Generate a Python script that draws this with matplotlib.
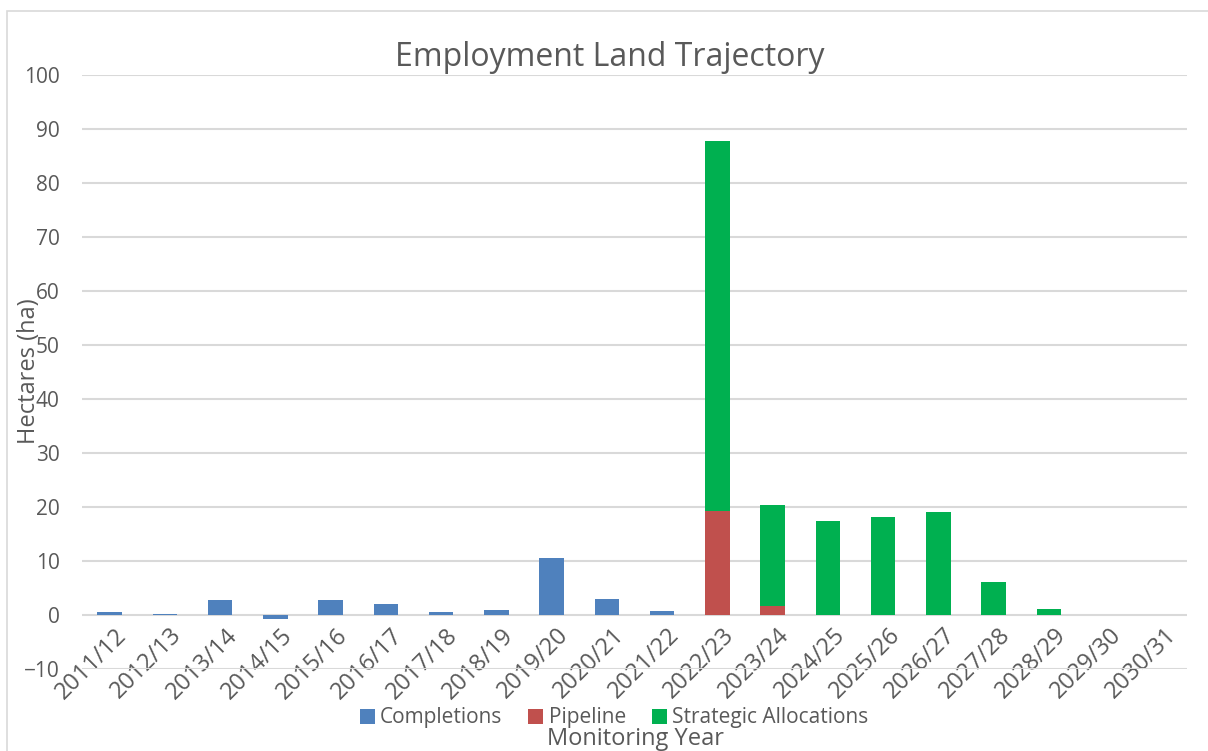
import numpy as np
import matplotlib.pyplot as plt
from matplotlib.patches import Rectangle
from matplotlib.transforms import ScaledTranslation

years = ["2011/12", "2012/13", "2013/14", "2014/15", "2015/16", "2016/17", "2017/18",
         "2018/19", "2019/20", "2020/21", "2021/22", "2022/23", "2023/24", "2024/25",
         "2025/26", "2026/27", "2027/28", "2028/29", "2029/30", "2030/31"]
completions = [0.6, 0.2, 2.7, -0.8, 2.8, 2.0, 0.6, 0.9, 10.5, 3.0, 0.8,
               0, 0, 0, 0, 0, 0, 0, 0, 0]
pipeline = [0, 0, 0, 0, 0, 0, 0, 0, 0, 0, 0,
            19.2, 1.7, 0, 0, 0, 0, 0, 0, 0]
strategic = [0, 0, 0, 0, 0, 0, 0, 0, 0, 0, 0,
             68.6, 18.6, 17.4, 18.1, 19.1, 6.1, 1.1, 0, 0]

plt.rcParams['font.family'] = ['Open Sans', 'DejaVu Sans']
text_col = '#595959'

fig = plt.figure(figsize=(12.08, 7.51), dpi=100)
ax = fig.add_axes([82 / 1208, 1 - 669 / 751, 1105 / 1208, 594 / 751])

x = np.arange(len(years))
w = 0.44
pos_base = np.clip(completions, 0, None)
ax.bar(x, completions, w, color='#4f81bd', label='Completions', zorder=3)
ax.bar(x, pipeline, w, bottom=pos_base, color='#c0504d', label='Pipeline', zorder=3)
ax.bar(x, strategic, w, bottom=pos_base + np.array(pipeline), color='#00b050',
       label='Strategic Allocations', zorder=3)

ax.set_ylim(-10, 100)
ax.set_xlim(-0.5, len(years) - 0.5)
ax.set_yticks(np.arange(-10, 101, 10))
ax.yaxis.grid(True, color='#d9d9d9', linewidth=1.5, zorder=0)
ax.set_axisbelow(True)
# category axis crosses at 0, like the original
ax.spines['bottom'].set_position(('data', 0))
for s in ax.spines.values():
    s.set_visible(False)
ax.tick_params(axis='both', length=0, colors=text_col)
ax.tick_params(axis='y', pad=16, labelsize=15)
ax.set_xticks(x)
ax.set_xticklabels(years, rotation=45, ha='right', rotation_mode='anchor', fontsize=17)
ax.tick_params(axis='x', pad=6)
shift = ScaledTranslation(5 / 100, 0, fig.dpi_scale_trans)
for lab in ax.get_xticklabels():
    lab.set_transform(lab.get_transform() + shift)

fig.text(610 / 1208, 1 - 57 / 751, 'Employment Land Trajectory', ha='center', va='center',
         fontsize=23, color=text_col)
fig.text(29 / 1208, 1 - 371 / 751, 'Hectares (ha)', rotation=90, ha='center', va='center',
         fontsize=17, color=text_col)
fig.text(635 / 1208, 1 - 739 / 751, 'Monitoring Year', ha='center', va='center',
         fontsize=17, color=text_col)

leg = fig.legend(loc='center', bbox_to_anchor=(614 / 1208, 1 - 718 / 751), ncol=3,
                 frameon=False, fontsize=15, handlelength=0.72, handleheight=0.72,
                 handletextpad=0.25, columnspacing=1.25, borderpad=0)
for t in leg.get_texts():
    t.set_color(text_col)

fig.patches.append(Rectangle((7 / 1208, -0.01), 1.1, 1 - 11 / 751 + 0.01,
                             transform=fig.transFigure, fill=False,
                             edgecolor='#d9d9d9', linewidth=1.2))

fig.savefig('out.png', dpi=100)
